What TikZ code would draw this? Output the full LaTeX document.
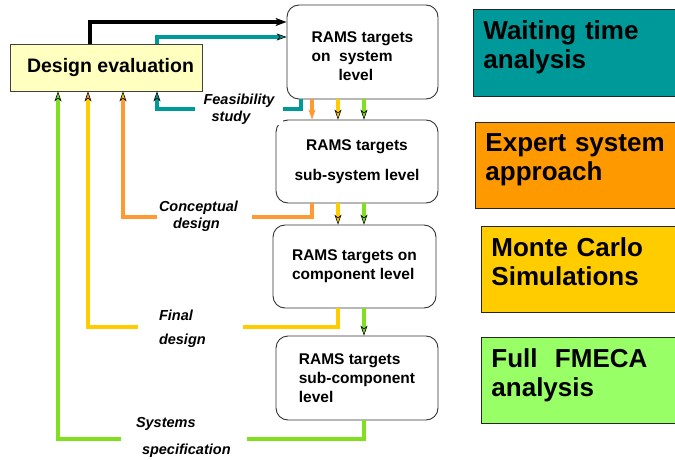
\documentclass[tikz,border=0pt]{standalone}
\usepackage{fontspec}
\setmainfont{Liberation Sans}
\usetikzlibrary{arrows.meta}

\definecolor{tealc}{RGB}{0,153,153}
\definecolor{orangeL}{RGB}{255,153,51}
\definecolor{orangeB}{RGB}{255,153,0}
\definecolor{yellowc}{RGB}{255,204,0}
\definecolor{greenL}{RGB}{128,224,32}
\definecolor{greenB}{RGB}{153,255,102}
\definecolor{paleY}{RGB}{255,255,192}

% extra depth below the last line of a method box
\newcommand{\lowpad}{\rule[-16pt]{0pt}{16pt}}

\tikzset{
  ramsbox/.style={draw=black!80, line width=0.9pt, rounded corners=12pt, fill=white,
    font=\bfseries\fontsize{15.5}{19}\selectfont, inner sep=0pt},
  sidebox/.style={draw=black!85, line width=0.9pt, anchor=north west, inner xsep=10pt,
    text width=186pt, align=left, font=\bfseries\fontsize{26}{29}\selectfont},
  flowlbl/.style={fill=white, inner ysep=1pt, font=\bfseries\itshape\fontsize{14.5}{17}\selectfont},
  feed/.style={line width=3.6pt},
  tipc/.style={-{Stealth[length=10pt,width=7pt,inset=3pt,line width=0.6pt,color=black,fill=#1]}},
  tipplain/.style={-{Stealth[length=10pt,width=7pt,inset=3pt,color=#1]}},
}

\begin{document}
\begin{tikzpicture}[x=1pt,y=-1pt]
\useasboundingbox (0,0) rectangle (675,460);

% design evaluation block
\node[draw=black!75, line width=0.9pt, fill=paleY, minimum width=192pt, minimum height=47pt,
  font=\bfseries\fontsize{19.5}{22}\selectfont] (de) at (106,67.5) {\hspace*{9pt}Design evaluation};

% RAMS target levels
\node[ramsbox, minimum width=151pt, minimum height=94pt, align=left] (b1) at (362.5,52)
  {\rule{0pt}{19.5pt}RAMS targets\\on\ \ system\\\hspace*{27pt}level};
\node[ramsbox, minimum width=162pt, minimum height=83pt, align=center] (b2) at (357,161.5)
  {RAMS targets\\[11pt]sub-system level};
\node[ramsbox, minimum width=163pt, minimum height=83pt, align=left] (b3) at (354.5,266.5)
  {RAMS targets on\\component level};
\node[ramsbox, minimum width=162pt, minimum height=84pt, align=left] (b4) at (357,378)
  {RAMS targets\\sub-component\\level};

% methods column
\node[sidebox, fill=tealc, minimum height=87pt] (wt) at (473,9) {Waiting time\\analysis\lowpad};
\node[sidebox, fill=orangeB, minimum height=86pt] (es) at (475,122) {Expert system\\approach\lowpad};
\node[sidebox, fill=yellowc, minimum height=86pt] (mc) at (481,226) {Monte Carlo\\Simulations\lowpad};
\node[sidebox, fill=greenB, minimum height=86pt] (fm) at (481,337) {Full\ \ FMECA\\analysis\lowpad};

% columns and rows of the connectors
\coordinate (xK) at (90,0);
\coordinate (xT) at (157,0);
\coordinate (xO) at (123,0);
\coordinate (xY) at (88,0);
\coordinate (xG) at (58,0);
\coordinate (xt) at (301,0);
\coordinate (xo) at (312,0);
\coordinate (xy) at (338,0);
\coordinate (xg) at (364,0);
\coordinate (yK) at (0,22);
\coordinate (yT) at (0,37);
\coordinate (rT) at (0,109);
\coordinate (rO) at (0,217);
\coordinate (rY) at (0,327);
\coordinate (rG) at (0,439);

% design evaluation to system level
\draw[line width=4pt, -{Stealth[length=11pt,width=8pt,inset=3pt]}] (de.north -| xK) |- (b1.west |- yK);
\draw[feed, color=tealc, tipc=tealc] (de.north -| xT) |- (b1.west |- yT);

% downward refinement
\draw[feed, color=orangeL, tipplain=orangeL] (b1.south -| xo) -- (b2.north -| xo);
\draw[feed, color=yellowc, tipc=yellowc] (b1.south -| xy) -- (b2.north -| xy);
\draw[feed, color=greenL, tipc=greenL] (b1.south -| xg) -- (b2.north -| xg);
\draw[feed, color=yellowc, tipc=yellowc] (b2.south -| xy) -- (b3.north -| xy);
\draw[feed, color=greenL, tipc=greenL] (b2.south -| xg) -- (b3.north -| xg);
\draw[feed, color=greenL, tipc=greenL] (b3.south -| xg) -- (b4.north -| xg);

% feedback loops to design evaluation
\draw[feed, color=tealc, tipc=tealc] (b1.south -| xt) -- (xt |- rT) -| (de.south -| xT);
\draw[feed, color=orangeL, tipc=yellowc] (b2.south -| xo) -- (xo |- rO) -| (de.south -| xO);
\draw[feed, color=yellowc, tipc=orangeL] (b3.south -| xy) -- (xy |- rY) -| (de.south -| xY);
\draw[feed, color=greenL, tipc=greenL] (b4.south -| xg) -- (xg |- rG) -| (de.south -| xG);

% loop labels
\node[flowlbl, minimum width=88pt, align=center] (lt) at (239,109) {Feasibility\\\hspace*{-16pt}study};
\node[flowlbl, text width=91pt, inner xsep=2pt, align=left] (lo) at (204.5,216) {Conceptual\\\hspace*{14pt}design};
\node[flowlbl, text width=63pt, inner xsep=21pt, align=left, font=\bfseries\itshape\fontsize{14.5}{24}\selectfont] (ly) at (190.5,329) {Final\\design};
\node[flowlbl, text width=96pt, inner xsep=15pt, align=left, font=\bfseries\itshape\fontsize{14.5}{27}\selectfont] (lg) at (184,437) {Systems\\\hspace*{6pt}specification};
\end{tikzpicture}
\end{document}
